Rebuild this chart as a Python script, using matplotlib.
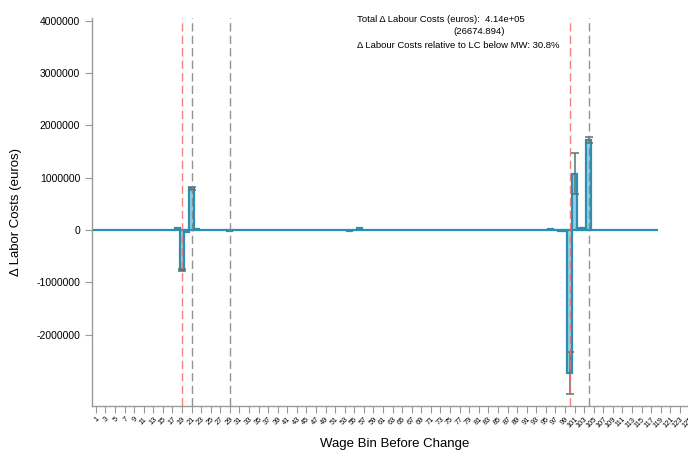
import matplotlib
matplotlib.use("Agg")
import matplotlib.pyplot as plt
import numpy as np

plt.rcParams['font.family'] = ['Liberation Sans', 'DejaVu Sans']

# ---- data ----
bins = list(range(1, 119))
delta_lc = [
    0, 0, 2000, 1000, 0, -1000, 0, 1500, 0, 0,
    -2000, 0, 3000, 2000, 4000, 6000, 8000, 35000, -760000, -35000,
    800000, 12000, 6000, 4000, 3000, 2000, 4000, 3000, -10000, 5000,
    8000, 4000, -6000, 3000, 7000, 2000, -5000, 4000, 6000, 3000,
    -4000, 5000, 9000, 6000, 3000, 2000, -3000, 4000, 5000, 2000,
    3000, 4000, -8000, -22000, 4000, 30000, 6000, 3000, 2000, 4000,
    -3000, 2000, 3000, 5000, 2000, -4000, 3000, 10000, 4000, 2000,
    3000, -2000, 4000, 3000, 2000, 5000, 2000, 3000, 4000, 2000,
    -3000, 3000, 9000, 4000, 2000, 3000, 2000, 4000, 3000, -2000,
    3000, 2000, 5000, 3000, 8000, 12000, 10000, -15000, -20000, -2730000,
    1080000, 30000, 30000, 1720000, 8000, 5000, 3000, 2000, 4000, 3000,
    2000, 6000, 3000, 2000, 4000, 3000, 2000, 3000,
]
ci_bins = [19, 21, 100, 101, 104]
ci_low = [-780000, 770000, -3140000, 690000, 1670000]
ci_high = [-740000, 820000, -2330000, 1480000, 1780000]
red_lines = [19, 100]
gray_lines = [21, 29, 104]
xtick_vals = list(range(1, 126, 2))
ytick_vals = [-2000000, -1000000, 0, 1000000, 2000000, 3000000, 4000000]

total_text = "Total \u0394 Labour Costs (euros):  4.14e+05"
se_text = "(26674.894)"
rel_text = "\u0394 Labour Costs relative to LC below MW: 30.8%"

# ---- figure ----
W, H = 688, 450
fig = plt.figure(figsize=(W / 100, H / 100), dpi=100)
x0, x1 = 0.2, 126.5
px_per = 4.787
left_px = 92
right_px = left_px + (x1 - x0) * px_per
top_px, bot_px = 18, 406
ax = fig.add_axes([left_px / W, 1 - bot_px / H, (right_px - left_px) / W, (bot_px - top_px) / H])

ax.bar(bins, delta_lc, width=1.0, color='#93d0e6', edgecolor='#2a8fb0', linewidth=1.6, zorder=2)

ci_vals = [delta_lc[b - 1] for b in ci_bins]
yerr = np.array([[v - lo for v, lo in zip(ci_vals, ci_low)],
                 [hi - v for v, hi in zip(ci_vals, ci_high)]])
ax.errorbar(ci_bins, ci_vals, yerr=yerr, fmt='none', ecolor='#55766e',
            elinewidth=1.1, capsize=3, capthick=1.1, zorder=3)

for xv in red_lines:
    ax.axvline(xv, color='#f26d6d', linestyle=(0, (6, 3)), linewidth=1.0, alpha=0.85, zorder=4)
for xv in gray_lines:
    ax.axvline(xv, color='#808080', linestyle=(0, (6, 3)), linewidth=1.0, alpha=0.85, zorder=4)

ax.set_xlim(x0, x1)
ax.set_ylim(-3360000, 4050000)
ax.set_yticks(ytick_vals)
ax.set_yticklabels([str(v) for v in ytick_vals], fontsize=7.5)
ax.set_xticks(xtick_vals)
ax.set_xticklabels([str(v) for v in xtick_vals], fontsize=5.3, rotation=45,
                   ha='right', rotation_mode='anchor')

for s in ['top', 'right']:
    ax.spines[s].set_visible(False)
for s in ['left', 'bottom']:
    ax.spines[s].set_color('#9a9a9a')
    ax.spines[s].set_linewidth(1.0)
ax.tick_params(axis='both', colors='#9a9a9a', labelcolor='black', length=5, width=0.8)
ax.tick_params(axis='x', pad=2)

ax.set_ylabel("\u0394 Labor Costs (euros)", fontsize=9.5, labelpad=10)
ax.set_xlabel("Wage Bin Before Change", fontsize=9.5, labelpad=6)

ax.text(357 / W, 1 - 20 / H, total_text, transform=fig.transFigure, fontsize=6.8, va='center')
ax.text(453 / W, 1 - 32 / H, se_text, transform=fig.transFigure, fontsize=6.8, va='center')
ax.text(357 / W, 1 - 46 / H, rel_text, transform=fig.transFigure, fontsize=6.8, va='center')

fig.savefig("out.png", dpi=100)
